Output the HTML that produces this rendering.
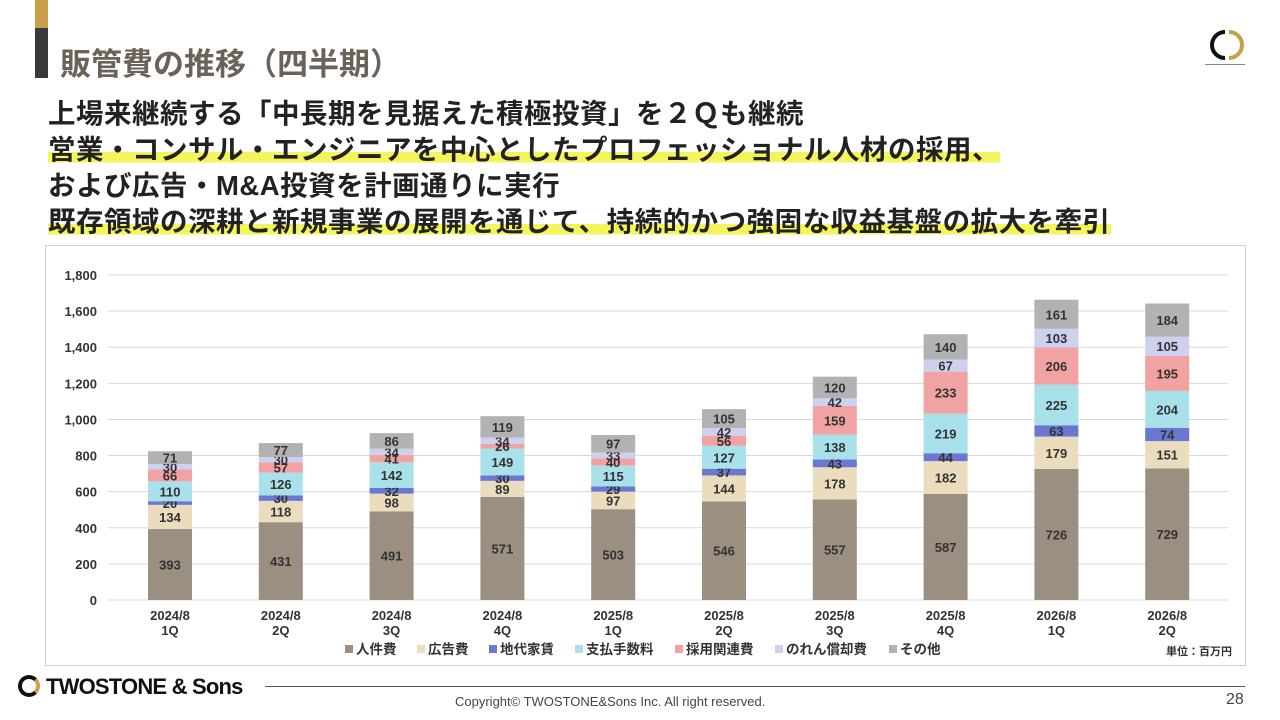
<!DOCTYPE html>
<html><head><meta charset="utf-8">
<style>
body{margin:0;width:1280px;height:720px;background:#fff;position:relative;overflow:hidden;font-family:"Liberation Sans","Noto Sans CJK JP",sans-serif;}
.abs{position:absolute;}
.line{position:absolute;left:48px;font-size:27.5px;font-weight:bold;color:#222;white-space:nowrap;letter-spacing:0.5px;}
.hl{background:linear-gradient(transparent 58%,#f4f55a 58%,#f4f55a 92%,transparent 92%);}
</style></head><body>
<div class="abs" style="left:35px;top:0;width:13px;height:28px;background:#c8a04a"></div>
<div class="abs" style="left:35px;top:28px;width:13px;height:50px;background:#3a3a3a"></div>
<div class="abs" style="left:60px;top:39px;font-size:31px;font-weight:bold;color:#6b625a">販管費の推移（四半期）</div>
<svg class="abs" style="left:1205px;top:28px" width="44" height="36"><path d="M20 4 A13 13 0 1 0 20 30" stroke="#111" stroke-width="4" fill="none"/><path d="M24 4 A13 13 0 0 1 24 30" stroke="#c8a04a" stroke-width="4" fill="none"/></svg>
<div class="abs" style="left:1205px;top:64px;width:40px;height:1px;background:#888"></div>
<div class="line" style="top:91px">上場来継続する「中長期を見据えた積極投資」を２Ｑも継続</div>
<div class="line" style="top:127px"><span class="hl">営業・コンサル・エンジニアを中心としたプロフェッショナル人材の採用、</span></div>
<div class="line" style="top:163px">および広告・M&amp;A投資を計画通りに実行</div>
<div class="line" style="top:199px"><span class="hl">既存領域の深耕と新規事業の展開を通じて、持続的かつ強固な収益基盤の拡大を牽引</span></div>
<div class="abs" style="left:45px;top:245px;width:1199px;height:419px;border:1px solid #d0d0d0"></div>
<svg id="chart" class="abs" style="left:0;top:0" width="1280" height="720"></svg>
<div class="abs" style="left:18px;top:674px;font-size:22px;font-weight:bold;color:#111;white-space:nowrap;letter-spacing:-0.8px"><span style="display:inline-block;width:22px;height:22px;border:4px solid #111;border-right-color:#c8a04a;border-radius:50%;box-sizing:border-box;vertical-align:-3px;margin-right:6px"></span>TWOSTONE &amp; Sons</div>
<div class="abs" style="left:265px;top:686px;width:980px;height:1px;background:#555"></div>
<div class="abs" style="left:455px;top:694px;font-size:13px;color:#444">Copyright© TWOSTONE&amp;Sons Inc. All right reserved.</div>
<div class="abs" style="left:1226px;top:691px;font-size:16px;color:#444">28</div>
<script>
const categories=["2024/8|1Q","2024/8|2Q","2024/8|3Q","2024/8|4Q","2025/8|1Q","2025/8|2Q","2025/8|3Q","2025/8|4Q","2026/8|1Q","2026/8|2Q"];
const seriesNames=["人件費","広告費","地代家賃","支払手数料","採用関連費","のれん償却費","その他"];
const personnel=[393,431,491,571,503,546,557,587,726,729];
const advertising=[134,118,98,89,97,144,178,182,179,151];
const rent=[20,30,32,30,29,37,43,44,63,74];
const fees=[110,126,142,149,115,127,138,219,225,204];
const recruiting=[66,57,41,26,40,56,159,233,206,195];
const goodwill=[30,30,34,34,33,42,42,67,103,105];
const other=[71,77,86,119,97,105,120,140,161,184];
const yTicks=[0,200,400,600,800,1000,1200,1400,1600,1800];
const series=[personnel,advertising,rent,fees,recruiting,goodwill,other];
const colors=["#9b8f81","#eadcbd","#6b78d2","#a8e1e9","#f1a2a2","#cdd1ef","#b2b2b2"];
const svg=document.getElementById('chart');const NS="http://www.w3.org/2000/svg";
const y=v=>600-v*(325/1800);
const x=i=>170+i*110.8;
function mk(t,a,txt){const e=document.createElementNS(NS,t);for(const k in a)e.setAttribute(k,a[k]);if(txt!==undefined)e.textContent=txt;svg.appendChild(e);return e;}
yTicks.forEach(v=>{
 const g=mk('line',{x1:108,x2:1228,y1:y(v),y2:y(v),stroke:'#d9d9d9','stroke-width':1});
 
 
 const t=mk('text',{x:97,y:y(v)+5,'text-anchor':'end','font-size':13,'font-weight':'bold',fill:'#333','font-family':'Liberation Sans, sans-serif'},v.toLocaleString('en-US'));
 
 
});
categories.forEach((c,i)=>{
 let base=0;
 series.forEach((s,k)=>{
  const v=s[i];
  const r=mk('rect',{x:x(i)-22,y:y(base+v),width:44,height:y(base)-y(base+v),fill:colors[k]});
  
  
  const t=mk('text',{x:x(i),y:(y(base)+y(base+v))/2+5,'text-anchor':'middle','font-size':13,'font-weight':'bold',fill:'#333','font-family':'Liberation Sans, sans-serif'},v);
  
  
  base+=v;
 });
 const p=c.split('|');
 const a=mk('text',{x:x(i),y:620,'text-anchor':'middle','font-size':13,'font-weight':'bold',fill:'#333','font-family':'Liberation Sans, sans-serif'},p[0]);
 
 
 const b=mk('text',{x:x(i),y:635,'text-anchor':'middle','font-size':13,'font-weight':'bold',fill:'#333','font-family':'Liberation Sans, sans-serif'},p[1]);
 
 
});
let lx=345;
seriesNames.forEach((n,k)=>{
 const r=mk('rect',{x:lx,y:645,width:8,height:8,fill:colors[k]});
 
 
 const t=mk('text',{x:lx+11,y:654,'font-size':13.5,'font-weight':'bold',fill:'#333','font-family':'Liberation Sans, Noto Sans CJK JP, sans-serif'},n);
 
 
 lx+=n.length*14+30;
});
const u=mk('text',{x:1232,y:655,'text-anchor':'end','font-size':11,'font-weight':'bold',fill:'#333','font-family':'Liberation Sans, Noto Sans CJK JP, sans-serif'},'単位：百万円');


</script>
</body></html>
